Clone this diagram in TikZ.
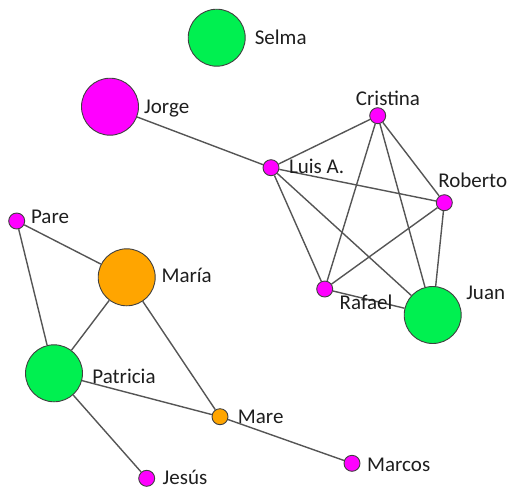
\documentclass[tikz,border=0pt]{standalone}
\usepackage{fontspec}
\setmainfont{Carlito}
\definecolor{ngreen}{RGB}{0,240,80}
\definecolor{nmag}{RGB}{255,0,255}
\definecolor{norange}{RGB}{255,165,0}
\definecolor{edgec}{RGB}{85,85,85}
\definecolor{txtc}{RGB}{30,30,30}
\begin{document}
\begin{tikzpicture}[x=1pt,y=-1pt,
  big/.style={circle,draw=black!75,line width=0.9pt,minimum size=57pt,inner sep=0pt},
  small/.style={circle,draw=black!75,line width=0.9pt,minimum size=16pt,inner sep=0pt},
  lbl/.style={text=txtc,font=\fontsize{21}{25}\selectfont,inner sep=0pt},
  edge/.style={draw=edgec,line width=1.4pt}]
\useasboundingbox (0,0) rectangle (509,491);
% nodes
\node[big,fill=ngreen] (selma) at (216.7,37.7) {};
\node[big,fill=nmag] (jorge) at (110,106.7) {};
\node[small,fill=nmag] (luis) at (271,167.7) {};
\node[small,fill=nmag] (cristina) at (377.7,115.7) {};
\node[small,fill=nmag] (roberto) at (444.3,202.7) {};
\node[small,fill=nmag] (rafael) at (324.7,289) {};
\node[big,fill=ngreen] (juan) at (432.7,315) {};
\node[small,fill=nmag] (pare) at (16.7,221) {};
\node[big,fill=norange] (maria) at (126.7,277.3) {};
\node[big,fill=ngreen] (patricia) at (54,373.3) {};
\node[small,fill=norange] (mare) at (220,416.7) {};
\node[small,fill=nmag] (jesus) at (146.7,478.3) {};
\node[small,fill=nmag] (marcos) at (352,463.3) {};
% edges
\path[edge] (jorge) -- (luis);
\path[edge] (luis) -- (cristina);
\path[edge] (luis) -- (roberto);
\path[edge] (luis) -- (rafael);
\path[edge] (luis) -- (juan);
\path[edge] (cristina) -- (rafael);
\path[edge] (cristina) -- (juan);
\path[edge] (cristina) -- (roberto);
\path[edge] (roberto) -- (rafael);
\path[edge] (roberto) -- (juan);
\path[edge] (rafael) -- (juan);
\path[edge] (pare) -- (maria);
\path[edge] (pare) -- (patricia);
\path[edge] (maria) -- (patricia);
\path[edge] (maria) -- (mare);
\path[edge] (patricia) -- (mare);
\path[edge] (patricia) -- (jesus);
\path[edge] (mare) -- (marcos);
% labels
\node[lbl] (lselma) at (280.7,37.7) {Selma};
\node[lbl] (ljorge) at (166.7,109) {Jorge};
\node[lbl] (lluis) at (316.7,166) {Luis A.};
\node[lbl] (lcristina) at (388,98) {Cristina};
\node[lbl] (lroberto) at (472.7,180) {Roberto};
\node[lbl] (lrafael) at (366,302.7) {Rafael};
\node[lbl] (ljuan) at (485.7,293) {Juan};
\node[lbl] (lpare) at (50,217.3) {Pare};
\node[lbl] (lmaria) at (186.7,275) {María};
\node[lbl] (lpatricia) at (124,376.7) {Patricia};
\node[lbl] (lmare) at (260.7,417.3) {Mare};
\node[lbl] (ljesus) at (185,477.3) {Jesús};
\node[lbl] (lmarcos) at (398.7,465) {Marcos};
\end{tikzpicture}
\end{document}
